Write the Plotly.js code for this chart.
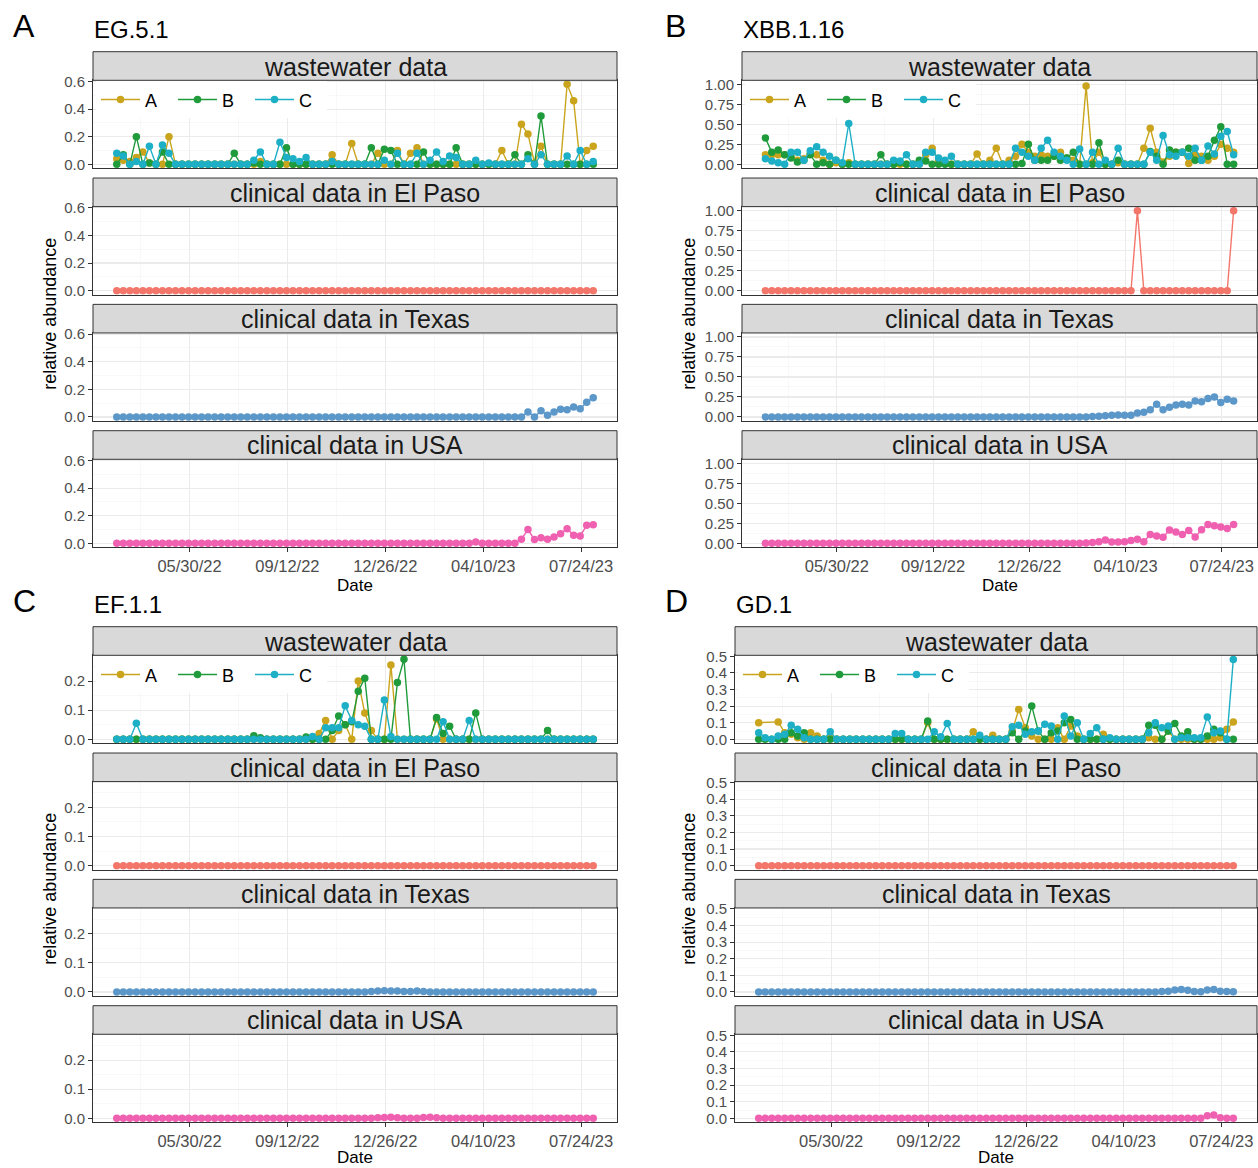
<!DOCTYPE html>
<html>
<head>
<meta charset="utf-8">
<script src="https://cdn.plot.ly/plotly-3.0.1.min.js"></script>
<style>html,body{margin:0;padding:0;background:#fff;}#chart{width:1258px;height:1168px;}</style>
</head>
<body>
<div id="chart"></div>
<script>
// ---------------- DATA ----------------
const dates = [
 '2022-03-13','2022-03-20','2022-03-27','2022-04-03','2022-04-10','2022-04-17','2022-04-24','2022-05-01','2022-05-08','2022-05-15',
 '2022-05-22','2022-05-29','2022-06-05','2022-06-12','2022-06-19','2022-06-26','2022-07-03','2022-07-10','2022-07-17','2022-07-24',
 '2022-07-31','2022-08-07','2022-08-14','2022-08-21','2022-08-28','2022-09-04','2022-09-11','2022-09-18','2022-09-25','2022-10-02',
 '2022-10-09','2022-10-16','2022-10-23','2022-10-30','2022-11-06','2022-11-13','2022-11-20','2022-11-27','2022-12-04','2022-12-11',
 '2022-12-18','2022-12-25','2023-01-01','2023-01-08','2023-01-15','2023-01-22','2023-01-29','2023-02-05','2023-02-12','2023-02-19',
 '2023-02-26','2023-03-05','2023-03-12','2023-03-19','2023-03-26','2023-04-02','2023-04-09','2023-04-16','2023-04-23','2023-04-30',
 '2023-05-07','2023-05-14','2023-05-21','2023-05-28','2023-06-04','2023-06-11','2023-06-18','2023-06-25','2023-07-02','2023-07-09',
 '2023-07-16','2023-07-23','2023-07-30','2023-08-06'];

const seriesNames = ['A', 'B', 'C'];
const facetLabels = ['wastewater data', 'clinical data in El Paso', 'clinical data in Texas', 'clinical data in USA'];
const panelLetters = ['A', 'B', 'C', 'D'];
const variantNames = ['EG.5.1', 'XBB.1.16', 'EF.1.1', 'GD.1'];
const dateTicks = ['2022-05-30', '2022-09-12', '2022-12-26', '2023-04-10', '2023-07-24'];
const dateTickLabels = ['05/30/22', '09/12/22', '12/26/22', '04/10/23', '07/24/23'];
const xTitle = 'Date';
const yTitle = 'relative abundance';

// EG.5.1
const egWwA = [0.04,0.03,0.02,0.05,0.09,0.01,0,0,0.2,0, 0,0,0,0,0,0,0,0,0,0, 0,0,0.02,0,0,0,0,0,0,0,
  0,0,0,0.07,0,0,0.15,0,0,0, 0.08,0,0,0.1,0,0.08,0.12,0,0,0, 0,0,0,0,0,0,0,0,0,0.1,
  0,0,0.29,0.22,0.01,0.13,0,0,0,0.58, 0.46,0,0.1,0.13];
const egWwB = [0,0.07,0,0.2,0,0.01,0,0.09,0,0, 0,0,0,0,0,0,0,0,0.08,0, 0,0.01,0,0,0,0,0.12,0,0,0,
  0,0,0,0,0,0,0,0,0,0.12, 0,0.11,0.1,0,0,0,0,0.09,0,0, 0,0,0.12,0,0,0,0,0,0,0,
  0,0.07,0,0.07,0,0.35,0,0,0,0, 0,0,0,0];
const egWwC = [0.08,0.06,0,0.02,0,0.13,0,0.14,0.08,0, 0,0,0,0,0,0,0,0,0,0, 0,0.03,0.09,0,0,0.16,0.05,0.04,0.02,0.05,
  0,0,0,0.02,0,0,0,0,0,0, 0,0.03,0,0.08,0,0,0.08,0,0.03,0.09, 0.02,0.06,0.05,0,0,0.03,0,0.01,0,0,
  0,0,0,0.04,0,0.07,0,0,0,0.06, 0,0.1,0,0.02];
const egElPaso = [0,0,0,0,0,0,0,0,0,0, 0,0,0,0,0,0,0,0,0,0, 0,0,0,0,0,0,0,0,0,0, 0,0,0,0,0,0,0,0,0,0,
  0,0,0,0,0,0,0,0,0,0, 0,0,0,0,0,0,0,0,0,0, 0,0,0,0,0,0,0,0,0,0, 0,0,0,0];
const egTexas = [0,0,0,0,0,0,0,0,0,0, 0,0,0,0,0,0,0,0,0,0, 0,0,0,0,0,0,0,0,0,0, 0,0,0,0,0,0,0,0,0,0,
  0,0,0,0,0,0,0,0,0,0, 0,0,0,0,0,0,0,0,0,0, 0,0,0,0.036,0,0.045,0.012,0.036,0.055,0.053, 0.072,0.06,0.106,0.14];
const egUSA = [0,0,0,0,0,0,0,0,0,0, 0,0,0,0,0,0,0,0,0,0, 0,0,0,0,0,0,0,0,0,0, 0,0,0,0,0,0,0,0,0,0,
  0,0,0,0,0,0,0,0,0,0, 0,0,0,0,0,0.01,0,0,0,0, 0,0,0.03,0.1,0.027,0.04,0.03,0.045,0.07,0.105, 0.058,0.053,0.13,0.135];

// XBB.1.16
const xbbWwA = [0.12,0.12,0.12,0.12,0.1,0.05,0.07,0.13,0.12,0.05, 0,0.02,0,0.02,0,0,0,0,0,0, 0,0,0,0,0,0.12,0.2,0.05,0.03,0,
  0,0,0,0.13,0,0.05,0.2,0,0.05,0.1, 0.25,0.15,0.1,0.12,0.1,0.1,0.15,0.08,0.05,0, 0.98,0.02,0.15,0,0,0.02,0,0,0,0.2,
  0.45,0.15,0.03,0.1,0.15,0.15,0.01,0.12,0.1,0.05, 0.1,0.25,0.2,0.15];
const xbbWwB = [0.33,0.15,0.18,0.12,0.08,0.03,0.05,0.12,0,0.02, 0,0.05,0,0,0,0,0,0,0.12,0, 0,0.02,0,0,0.05,0.04,0,0,0,0,
  0,0,0,0,0,0,0,0,0,0, 0.01,0.25,0.05,0.05,0.05,0.1,0.05,0.08,0.15,0, 0,0,0.27,0,0,0.05,0,0,0,0,
  0.16,0.1,0,0.18,0.15,0.15,0.2,0.05,0.05,0.1, 0.3,0.47,0,0];
const xbbWwC = [0.07,0.04,0.02,0,0.15,0.15,0.05,0.17,0.22,0.15, 0.1,0.05,0.02,0.51,0,0,0,0,0,0, 0.05,0.04,0.12,0,0,0.15,0.15,0.08,0.05,0.1,
  0,0,0,0,0,0,0,0,0,0.2, 0.15,0.1,0.05,0.2,0.3,0.15,0.1,0.05,0,0.19, 0,0.15,0,0.05,0,0.2,0,0,0,0,
  0.15,0.05,0.36,0.12,0.1,0.15,0.1,0.2,0.05,0.23, 0.13,0.35,0.41,0.12];
const xbbElPaso = [0,0,0,0,0,0,0,0,0,0, 0,0,0,0,0,0,0,0,0,0, 0,0,0,0,0,0,0,0,0,0, 0,0,0,0,0,0,0,0,0,0,
  0,0,0,0,0,0,0,0,0,0, 0,0,0,0,0,0,0,0,1,0, 0,0,0,0,0,0,0,0,0,0, 0,0,0,1];
const xbbTexas = [0,0,0,0,0,0,0,0,0,0, 0,0,0,0,0,0,0,0,0,0, 0,0,0,0,0,0,0,0,0,0, 0,0,0,0,0,0,0,0,0,0,
  0,0,0,0,0,0,0,0,0,0, 0,0.005,0.01,0.015,0.02,0.025,0.02,0.02,0.05,0.06, 0.09,0.16,0.09,0.12,0.15,0.16,0.15,0.2,0.19,0.23, 0.25,0.18,0.22,0.2];
const xbbUSA = [0,0,0,0,0,0,0,0,0,0, 0,0,0,0,0,0,0,0,0,0, 0,0,0,0,0,0,0,0,0,0, 0,0,0,0,0,0,0,0,0,0,
  0,0,0,0,0,0,0,0,0,0, 0.005,0.01,0.02,0.04,0.015,0.015,0.02,0.035,0.05,0.02, 0.11,0.09,0.075,0.165,0.14,0.11,0.16,0.08,0.17,0.235, 0.22,0.205,0.185,0.235];

// EF.1.1
const efWwA = [0,0,0,0,0,0,0,0,0,0, 0,0,0,0,0,0,0,0,0,0, 0,0,0,0,0,0,0,0,0,0,
  0,0.02,0.065,0,0.03,0.05,0,0.2,0.09,0.03, 0,0,0.255,0,0,0,0,0,0,0.07, 0,0,0,0,0,0,0,0,0,0,
  0,0,0,0,0,0,0,0,0,0, 0,0,0,0];
const efWwB = [0,0,0,0,0,0,0,0,0,0, 0,0,0,0,0,0,0,0,0,0, 0,0.012,0.005,0,0,0,0,0,0,0.008,
  0,0,0,0.03,0.08,0.05,0.06,0.165,0.21,0, 0,0,0,0.195,0.275,0,0,0,0,0.075, 0.02,0.045,0,0,0,0.09,0,0,0,0,
  0,0,0,0,0,0,0.03,0,0,0, 0,0,0,0];
const efWwC = [0,0,0,0.055,0,0,0,0,0,0, 0,0,0,0,0,0,0,0,0,0, 0,0,0,0,0,0,0,0,0,0,
  0.01,0,0.04,0.04,0.04,0.115,0.065,0.05,0.045,0, 0,0.135,0.01,0,0,0,0,0,0,0, 0.06,0,0,0,0.065,0,0,0,0,0,
  0,0,0,0,0,0,0,0,0,0, 0,0,0,0];
const efElPaso = [0,0,0,0,0,0,0,0,0,0, 0,0,0,0,0,0,0,0,0,0, 0,0,0,0,0,0,0,0,0,0, 0,0,0,0,0,0,0,0,0,0,
  0,0,0,0,0,0,0,0,0,0, 0,0,0,0,0,0,0,0,0,0, 0,0,0,0,0,0,0,0,0,0, 0,0,0,0];
const efTexas = [0,0,0,0,0,0,0,0,0,0, 0,0,0,0,0,0,0,0,0,0, 0,0,0,0,0,0,0,0,0,0, 0,0,0,0,0,0,0,0,0,0.002,
  0.003,0.004,0.003,0.003,0.002,0.002,0.003,0.002,0,0, 0,0,0,0,0,0,0,0,0,0, 0,0,0,0,0,0,0,0,0,0, 0,0,0,0];
const efUSA = [0,0,0,0,0,0,0,0,0,0, 0,0,0,0,0,0,0,0,0,0, 0,0,0,0,0,0,0,0,0,0, 0,0,0,0,0,0,0,0,0,0,
  0.002,0.003,0.004,0.002,0,0,0,0.003,0.004,0.002, 0,0,0,0,0,0,0,0,0,0, 0,0,0,0,0,0,0,0,0,0, 0,0,0,0];

// GD.1
const gdWwA = [0.1,null,null,0.105,0.04,0.03,0.01,0,0.04,0.02, 0,0.01,0,0,0,0,0,0,0,0, 0,0,0,0,0,0,0.1,0,0,0,
  0,0,0,0.045,0,0,0.025,0,0,0.05, 0.18,0.07,0.02,0,0,0,0.07,0,0.08,0.02, 0,0,0,0.03,0,0,0,0,0,0,
  0.01,0,0,0.05,0,0,0,0,0,0, 0,0.01,0.06,0.105];
const gdWwB = [0,0,0,0,0,0.04,0.02,0.04,0,0, 0,0,0,0,0,0,0,0,0,0, 0,0,0,0,0,0,0.11,0,0,0,
  0,0,0,0,0,0,0,0,0,0.04, 0,0.05,0.2,0.05,0,0.04,0.05,0.1,0.12,0, 0,0,0,0,0,0,0,0,0,0,
  0.085,0.085,0,0.05,0.095,0.02,0.045,0,0,0.02, 0.06,0.04,0,0];
const gdWwC = [0.04,0.01,0,0.02,0.03,0.085,0.06,0.01,0,0, 0,0.045,0,0,0,0,0,0,0,0, 0,0.035,0.035,0,0,0,0,0.045,0.015,0.095,
  0,0,0,0,0.025,0,0,0,0,0.075, 0.085,0.03,0.045,0.05,0.09,0.08,0,0.14,0.02,0.1, 0,0.035,0.07,0,0.01,0,0,0,0,0,
  0.04,0.1,0.07,0.08,0,0.01,0.01,0.01,0.01,0.135, 0.04,0.05,0,0.48];
const gdElPaso = [0,0,0,0,0,0,0,0,0,0, 0,0,0,0,0,0,0,0,0,0, 0,0,0,0,0,0,0,0,0,0, 0,0,0,0,0,0,0,0,0,0,
  0,0,0,0,0,0,0,0,0,0, 0,0,0,0,0,0,0,0,0,0, 0,0,0,0,0,0,0,0,0,0, 0,0,0,0];
const gdTexas = [0,0,0,0,0,0,0,0,0,0, 0,0,0,0,0,0,0,0,0,0, 0,0,0,0,0,0,0,0,0,0, 0,0,0,0,0,0,0,0,0,0,
  0,0,0,0,0,0,0,0,0,0, 0,0,0,0,0,0,0,0,0,0, 0,0,0.003,0.005,0.012,0.015,0.01,0.003,0.002,0.012, 0.015,0.005,0.003,0.002];
const gdUSA = [0,0,0,0,0,0,0,0,0,0, 0,0,0,0,0,0,0,0,0,0, 0,0,0,0,0,0,0,0,0,0, 0,0,0,0,0,0,0,0,0,0,
  0,0,0,0,0,0,0,0,0,0, 0,0,0,0,0,0,0,0,0,0, 0,0,0,0,0,0,0,0,0,0.015, 0.02,0.003,0,0];

// ---------------- STYLE / LAYOUT ----------------
const W = 1258, H = 1168;
const FONT = 'Liberation Sans, Arial, Helvetica, sans-serif';
const wwColors = ['#C9A41C', '#1F9B3B', '#1DAFC6'];
const clColors = ['#F3766B', '#5B97C9', '#EF60B0'];
const xRange = ['2022-02-15 12:00', '2023-08-31 12:00'];

const panels = [
  {left: 93,  right: 617,  top: 51.7,  yRange: [-0.029, 0.609],   dtick: 0.2,  fmt: '.1f',
   ww: [egWwA, egWwB, egWwC], cl: [egElPaso, egTexas, egUSA]},
  {left: 742, right: 1257, top: 51.7,  yRange: [-0.05, 1.05],     dtick: 0.25, fmt: '.2f',
   ww: [xbbWwA, xbbWwB, xbbWwC], cl: [xbbElPaso, xbbTexas, xbbUSA]},
  {left: 93,  right: 617,  top: 626.7, yRange: [-0.01375, 0.28875], dtick: 0.1, fmt: '.1f',
   ww: [efWwA, efWwB, efWwC], cl: [efElPaso, efTexas, efUSA]},
  {left: 735, right: 1257, top: 626.7, yRange: [-0.024, 0.506],   dtick: 0.1,  fmt: '.1f',
   ww: [gdWwA, gdWwB, gdWwC], cl: [gdElPaso, gdTexas, gdUSA]}
];
const STRIP_H = 28.6, PLOT_H = 88, PITCH = 126.33;

const px = v => v / W;
const py = v => 1 - v / H;
const sfx = n => (n === 1 ? '' : String(n));

const traces = [];
const layout = {
  width: W, height: H,
  margin: {l: 0, r: 0, t: 0, b: 0},
  paper_bgcolor: '#FFFFFF', plot_bgcolor: '#FFFFFF',
  font: {family: FONT, color: '#000'},
  showlegend: true,
  shapes: [], annotations: []
};

panels.forEach((p, pi) => {
  const base = pi * 4;
  const legendName = pi === 0 ? 'legend' : 'legend' + (pi + 1);
  for (let k = 0; k < 4; k++) {
    const n = base + k + 1;
    const stripTop = p.top + PITCH * k;
    const plotTop = stripTop + STRIP_H;
    const plotBot = plotTop + PLOT_H;
    const isBottom = k === 3;
    layout['xaxis' + sfx(n)] = {
      type: 'date', range: xRange, domain: [px(p.left), px(p.right)], anchor: 'y' + sfx(n),
      tickmode: 'array', tickvals: dateTicks, ticktext: dateTickLabels,
      showticklabels: isBottom, ticks: isBottom ? 'outside' : '', ticklen: 3.5, tickwidth: 1, tickcolor: '#333333',
      tickfont: {family: FONT, size: 16.5, color: '#4D4D4D'},
      showgrid: true, gridcolor: '#EBEBEB', gridwidth: 1.1,
      minor: {tickmode: 'linear', tick0: '2022-05-30', dtick: 52.5 * 86400000, showgrid: true, gridcolor: '#F3F3F3', gridwidth: 0.6, ticks: ''},
      showline: true, mirror: true, linecolor: '#333333', linewidth: 1, zeroline: false, fixedrange: true
    };
    layout['yaxis' + sfx(n)] = {
      range: p.yRange, domain: [py(plotBot), py(plotTop)], anchor: 'x' + sfx(n),
      tickmode: 'linear', tick0: 0, dtick: p.dtick, tickformat: p.fmt,
      ticks: 'outside', ticklen: 4, tickwidth: 1, tickcolor: '#333333',
      tickfont: {family: FONT, size: 15, color: '#4D4D4D'},
      showgrid: true, gridcolor: '#EBEBEB', gridwidth: 1.1,
      minor: {tickmode: 'linear', tick0: p.dtick / 2, dtick: p.dtick, showgrid: true, gridcolor: '#F3F3F3', gridwidth: 0.6, ticks: ''},
      showline: true, mirror: true, linecolor: '#333333', linewidth: 1, zeroline: false, fixedrange: true
    };
    // strip
    layout.shapes.push({type: 'rect', xref: 'paper', yref: 'paper',
      x0: px(p.left), x1: px(p.right), y0: py(plotTop), y1: py(stripTop),
      fillcolor: '#D9D9D9', line: {color: '#333333', width: 1}, layer: 'above'});
    layout.annotations.push({xref: 'paper', yref: 'paper', x: px((p.left + p.right) / 2), y: py(stripTop + STRIP_H / 2 + 0.5),
      text: facetLabels[k], showarrow: false, xanchor: 'center', yanchor: 'middle',
      font: {family: FONT, size: 25, color: '#1A1A1A'}});
  }
  // wastewater traces
  p.ww.forEach((vals, si) => {
    traces.push({x: dates, y: vals, xaxis: 'x' + sfx(base + 1), yaxis: 'y' + sfx(base + 1),
      type: 'scatter', mode: 'lines+markers', name: seriesNames[si], connectgaps: true,
      line: {color: wwColors[si], width: 1.4}, marker: {color: wwColors[si], size: 7.5},
      legend: legendName, showlegend: true, hoverinfo: 'skip'});
  });
  // clinical traces
  p.cl.forEach((vals, ci) => {
    traces.push({x: dates, y: vals, xaxis: 'x' + sfx(base + 2 + ci), yaxis: 'y' + sfx(base + 2 + ci),
      type: 'scatter', mode: 'lines+markers', name: facetLabels[ci + 1],
      line: {color: clColors[ci], width: 1.4}, marker: {color: clColors[ci], size: 7.5},
      showlegend: false, hoverinfo: 'skip'});
  });
  // legend
  layout[legendName] = {
    x: px(p.left + 3), y: py(p.top + STRIP_H + 1), xanchor: 'left', yanchor: 'top',
    orientation: 'h', bgcolor: '#FFFFFF', borderwidth: 0,
    font: {family: FONT, size: 18, color: '#000'},
    itemwidth: 39, entrywidth: 23, entrywidthmode: 'pixels', tracegroupgap: 0
  };
  // panel letter & variant title
  const letterX = pi % 2 === 0 ? 11 : 663;
  layout.annotations.push({xref: 'paper', yref: 'paper', x: px(letterX), y: py(p.top - 26),
    text: panelLetters[pi], showarrow: false, xanchor: 'left', yanchor: 'middle',
    font: {family: FONT, size: 32, color: '#000'}});
  layout.annotations.push({xref: 'paper', yref: 'paper', x: px(p.left - 1), y: py(p.top - 22),
    text: variantNames[pi], showarrow: false, xanchor: 'left', yanchor: 'middle',
    font: {family: FONT, size: 24, color: '#000'}});
  // axis titles
  const panelBottom = p.top + PITCH * 3 + STRIP_H + PLOT_H;
  layout.annotations.push({xref: 'paper', yref: 'paper', x: px((p.left + p.right) / 2),
    y: Math.max(0, py(panelBottom + 49)), borderpad: 0,
    text: xTitle, showarrow: false, xanchor: 'center', yanchor: 'bottom',
    font: {family: FONT, size: 17, color: '#000'}});
  const ytX = pi % 2 === 0 ? 50 : 689;
  layout.annotations.push({xref: 'paper', yref: 'paper', x: px(ytX), y: py((p.top + STRIP_H + panelBottom) / 2),
    text: yTitle, showarrow: false, xanchor: 'center', yanchor: 'middle', textangle: -90,
    font: {family: FONT, size: 18, color: '#000'}});
});

Plotly.newPlot('chart', traces, layout, {staticPlot: true, displayModeBar: false});
</script>
</body>
</html>
